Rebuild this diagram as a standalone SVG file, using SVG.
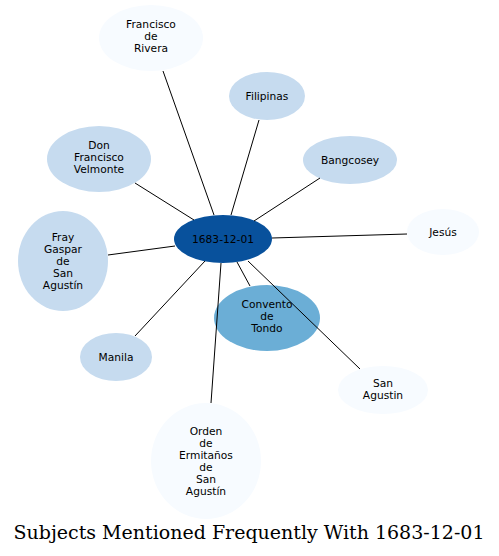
<svg xmlns="http://www.w3.org/2000/svg" width="499" height="556" viewBox="0 0 499 556">
<style>
.n text{font-family:"DejaVu Sans",sans-serif;font-size:10.67px;text-anchor:middle;fill:#000}
.e line{stroke:#000;stroke-width:1}
.c1{fill:#f7fbff}.c2{fill:#c6dbef}.c3{fill:#6baed6}.c4{fill:#08519c}
.t{font-family:"DejaVu Serif",serif;font-size:19px;text-anchor:middle}
</style>
<rect width="499" height="556" fill="#fff"/>
<g id="n_francisco" class="n"><ellipse class="c1" cx="151" cy="38" rx="52" ry="33"/><text x="151" y="28">Francisco</text><text x="151" y="40">de</text><text x="151" y="52">Rivera</text></g>
<g id="n_filipinas" class="n"><ellipse class="c2" cx="267" cy="96" rx="38" ry="24"/><text x="267" y="100">Filipinas</text></g>
<g id="n_velmonte" class="n"><ellipse class="c2" cx="99" cy="159" rx="52" ry="33"/><text x="99" y="149">Don</text><text x="99" y="161">Francisco</text><text x="99" y="173">Velmonte</text></g>
<g id="n_bangcosey" class="n"><ellipse class="c2" cx="350" cy="160" rx="47" ry="24"/><text x="350" y="164">Bangcosey</text></g>
<g id="n_jesus" class="n"><ellipse class="c1" cx="443" cy="232" rx="36" ry="23"/><text x="443" y="236">Jesús</text></g>
<g id="n_fray" class="n"><ellipse class="c2" cx="63" cy="261" rx="45" ry="50"/><text x="63" y="241">Fray</text><text x="63" y="253">Gaspar</text><text x="63" y="265">de</text><text x="63" y="277">San</text><text x="63" y="289">Agustín</text></g>
<g id="n_convento" class="n"><ellipse class="c3" cx="267" cy="318" rx="53" ry="33"/><text x="267" y="308">Convento</text><text x="267" y="320">de</text><text x="267" y="332">Tondo</text></g>
<g id="n_manila" class="n"><ellipse class="c2" cx="116" cy="357" rx="36" ry="24"/><text x="116" y="361">Manila</text></g>
<g id="n_sanagustin" class="n"><ellipse class="c1" cx="383" cy="390" rx="45" ry="24"/><text x="383" y="387">San</text><text x="383" y="399">Agustin</text></g>
<g id="n_orden" class="n"><ellipse class="c1" cx="206" cy="461" rx="55" ry="58"/><text x="206" y="435">Orden</text><text x="206" y="447">de</text><text x="206" y="459">Ermitaños</text><text x="206" y="471">de</text><text x="206" y="483">San</text><text x="206" y="495">Agustín</text></g>
<g id="n_center" class="n"><ellipse class="c4" cx="223" cy="239" rx="49" ry="24"/><text x="223" y="243">1683-12-01</text></g>
<g id="edges" class="e">
<line x1="214" y1="215" x2="163" y2="71"/>
<line x1="231" y1="215" x2="259" y2="120"/>
<line x1="194" y1="220" x2="135" y2="183"/>
<line x1="254" y1="221" x2="320" y2="178"/>
<line x1="272" y1="238" x2="407" y2="234"/>
<line x1="175" y1="246" x2="108" y2="255"/>
<line x1="237" y1="262" x2="250" y2="286"/>
<line x1="205" y1="261" x2="135" y2="336"/>
<line x1="248" y1="261" x2="360" y2="369"/>
<line x1="221" y1="263" x2="211" y2="403"/>
</g>
<text class="t" x="249" y="539">Subjects Mentioned Frequently With 1683-12-01</text>
</svg>
